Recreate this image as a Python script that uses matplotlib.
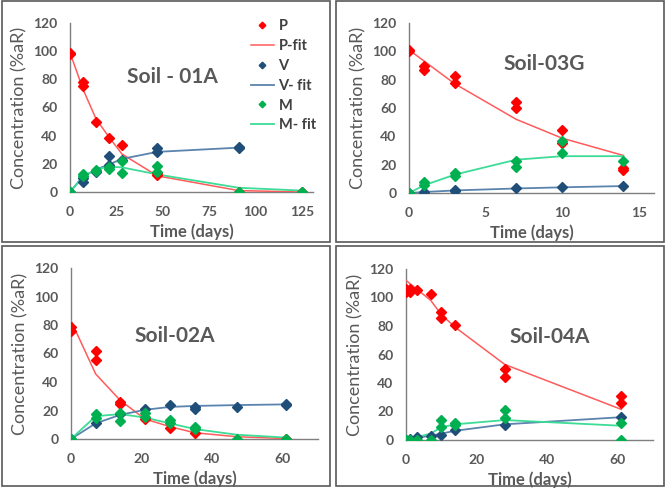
import matplotlib
matplotlib.use("Agg")
import matplotlib.pyplot as plt
import matplotlib.patches as mpatches

plt.rcParams["font.family"] = ["Lato", "DejaVu Sans"]

# ---- data ----
# Soil - 01A
a1_t_P = [0, 0, 7, 7, 14, 21, 28, 47, 47, 91, 125]
a1_P = [98, 99, 78, 75, 49.5, 38, 33.5, 13.5, 12, 0, 0]
a1_t_V = [0, 7, 7, 14, 21, 21, 28, 47, 47, 91, 91]
a1_V = [0, 7, 10, 14.5, 25.5, 19, 22.5, 31.5, 28.5, 32, 31]
a1_t_M = [0, 7, 7, 14, 14, 21, 21, 28, 28, 47, 47, 91, 125]
a1_M = [0, 13, 11.5, 15.5, 15, 18, 16, 22, 13.7, 18.5, 14, 0, 0]
a1_t_fit = [0, 7, 14, 21, 28, 47, 91, 125]
a1_P_fit = [99, 73, 52, 39, 27, 11.5, 1, 0]
a1_V_fit = [0, 11, 16, 19.5, 23.5, 28.5, 31.5]
a1_M_fit = [0, 11, 16, 18, 17.5, 12.5, 3, 1]

# Soil-03G
g3_t_P = [0, 0, 1, 1, 3, 3, 7, 7, 10, 10, 14, 14]
g3_P = [101, 100.5, 90, 87, 82.5, 78, 64, 60, 44.5, 35, 18, 16]
g3_t_V = [0, 1, 3, 3, 7, 10, 14]
g3_V = [0, 1, 2, 1.2, 3.3, 4, 5]
g3_t_M = [0, 1, 1, 3, 3, 7, 7, 10, 10, 14]
g3_M = [0, 7.7, 5.6, 14, 11.7, 22.5, 18.3, 36.5, 28, 22.7]
g3_t_fit = [0, 1, 3, 7, 10, 14]
g3_P_fit = [101, 93, 77, 52, 38.7, 26.5]
g3_V_fit = [0, 0.7, 1.8, 3.2, 4, 4.9]
g3_M_fit = [0, 5.5, 13, 23.5, 26, 26]

# Soil-02A
a2_t_P = [0, 0, 7, 7, 14, 14, 21, 28, 35, 61]
a2_P = [78.5, 75.5, 61.5, 55.7, 26, 24.6, 14, 8, 4, 0]
a2_t_V = [0, 7, 14, 21, 28, 35, 35, 47, 61, 61]
a2_V = [0, 11.5, 17.5, 21.3, 23.6, 22.5, 21.3, 22.2, 24.6, 24]
a2_t_M = [0, 7, 7, 14, 14, 21, 21, 28, 28, 35, 35, 47, 61]
a2_M = [0, 17.5, 14.7, 18, 12.9, 18, 15.2, 13.3, 11, 8.4, 6.8, 0, 0]
a2_t_fit = [0, 7, 14, 21, 28, 35, 47, 61]
a2_P_fit = [83, 45.6, 27, 14, 8.7, 4.4, 1.6, 0.3]
a2_V_fit = [0, 11, 17, 20.5, 22.5, 23.2, 23.8, 24.3]
a2_M_fit = [0, 16, 17.5, 15, 11, 7, 3, 1]

# Soil-04A
a4_t_P = [0, 0, 1, 1, 3, 7, 10, 10, 14, 28, 28, 61, 61]
a4_P = [106, 104, 106, 104, 105.3, 102.5, 89.6, 85.6, 81, 49.8, 44.4, 31, 25.7]
a4_t_V = [0, 1, 3, 7, 10, 14, 28, 61]
a4_V = [0, 1, 2, 3, 3.7, 6.8, 10.5, 15.9]
a4_t_M = [0, 1, 3, 7, 10, 10, 14, 14, 28, 28, 61, 61]
a4_M = [0, 0, 0, 0, 14, 8.9, 10.8, 12.2, 21, 15.4, 12.2, 0]
a4_t_fit = [0, 1, 3, 7, 10, 14, 28, 61]
a4_P_fit = [112, 110, 106, 98, 88, 79, 53, 21.5]
a4_V_fit = [0, 0.5, 1.5, 3, 4.5, 6.5, 11, 16]
a4_M_fit = [0, 0.5, 2, 4.5, 9, 11, 14, 10]

C_P, C_PF = "#FF0000", "#FF5B5B"
C_V, C_VF = "#1F4E79", "#5A84AE"
C_M, C_MF = "#00B050", "#3DDC97"
C_TXT = "#595959"

W, H = 666, 488
fig = plt.figure(figsize=(W / 100, H / 100), dpi=100)

# panel frames (pixel boxes: x0, y0, x1, y1)
for x0, y0, x1, y1 in [(2, 1, 330, 242), (336, 1, 664, 242),
                       (2, 246, 330, 486), (336, 246, 664, 486)]:
    fig.patches.append(mpatches.Rectangle(
        (x0 / W, 1 - y1 / H), (x1 - x0) / W, (y1 - y0) / H,
        transform=fig.transFigure, fill=False, edgecolor="#595959", lw=1.2))


def make_ax(x0, x1, ybot, ytop):
    return fig.add_axes([x0 / W, 1 - ybot / H, (x1 - x0) / W, (ybot - ytop) / H])


panels = [
    (make_ax(70, 313, 192, 23), "Soil - 01A", (0, 131), [0, 25, 50, 75, 100, 125], (0.42, 0.68),
     a1_t_P, a1_P, a1_t_V, a1_V, a1_t_M, a1_M, a1_t_fit, a1_P_fit, a1_V_fit, a1_M_fit),
    (make_ax(409, 654, 193, 23), "Soil-03G", (0, 16), [0, 5, 10, 15], (0.55, 0.76),
     g3_t_P, g3_P, g3_t_V, g3_V, g3_t_M, g3_M, g3_t_fit, g3_P_fit, g3_V_fit, g3_M_fit),
    (make_ax(71, 318, 439, 268), "Soil-02A", (0, 70), [0, 20, 40, 60], (0.42, 0.6),
     a2_t_P, a2_P, a2_t_V, a2_V, a2_t_M, a2_M, a2_t_fit, a2_P_fit, a2_V_fit, a2_M_fit),
    (make_ax(406, 653, 440, 269), "Soil-04A", (0, 70), [0, 20, 40, 60], (0.58, 0.6),
     a4_t_P, a4_P, a4_t_V, a4_V, a4_t_M, a4_M, a4_t_fit, a4_P_fit, a4_V_fit, a4_M_fit),
]

for i, (ax, title, xlim, xticks, tpos, tP, P, tV, V, tM, M, tf, Pf, Vf, Mf) in enumerate(panels):
    ax.plot(tP, P, "D", color=C_P, ms=4.8, label="P", zorder=4)
    ax.plot(tf, Pf, "-", color=C_PF, lw=1.1, label="P-fit", zorder=3)
    ax.plot(tV, V, "D", color=C_V, ms=4.8, label="V", zorder=4)
    ax.plot(tf[:len(Vf)], Vf, "-", color=C_VF, lw=1.3, label="V- fit", zorder=3)
    ax.plot(tM, M, "D", color=C_M, ms=4.8, label="M", zorder=4)
    ax.plot(tf, Mf, "-", color=C_MF, lw=1.3, label="M- fit", zorder=3)

    ax.set_xlim(*xlim)
    ax.set_ylim(0, 120)
    ax.set_xticks(xticks)
    ax.set_yticks(range(0, 121, 20))
    for s in ("top", "right"):
        ax.spines[s].set_visible(False)
    for s in ("left", "bottom"):
        ax.spines[s].set_color("#7F7F7F")
        ax.spines[s].set_linewidth(1.0)
    ax.tick_params(axis="y", length=0, pad=9, labelsize=10, labelcolor=C_TXT)
    ax.tick_params(axis="x", length=0, pad=10, labelsize=10, labelcolor=C_TXT)
    for lab in ax.get_xticklabels() + ax.get_yticklabels():
        lab.set_fontweight("bold")
    ax.set_xlabel("Time (days)", fontsize=12, fontweight="bold", color=C_TXT, labelpad=4)
    ax.set_ylabel("Concentration (%aR)", fontsize=13, color=C_TXT, labelpad=4)
    ax.patch.set_alpha(0)
    ax.text(tpos[0], tpos[1], title, transform=ax.transAxes, ha="center", va="center",
            fontsize=15, fontweight="bold", color=C_TXT)

    if i == 0:
        leg = ax.legend(loc="upper left", bbox_to_anchor=(0.69, 1.10), frameon=False,
                        fontsize=10.5, markerscale=0.7, handlelength=1.6,
                        handletextpad=0.3, labelspacing=0.4)
        for t in leg.get_texts():
            t.set_color("#404040")
            t.set_fontweight("bold")

fig.savefig("out.png", dpi=100)
